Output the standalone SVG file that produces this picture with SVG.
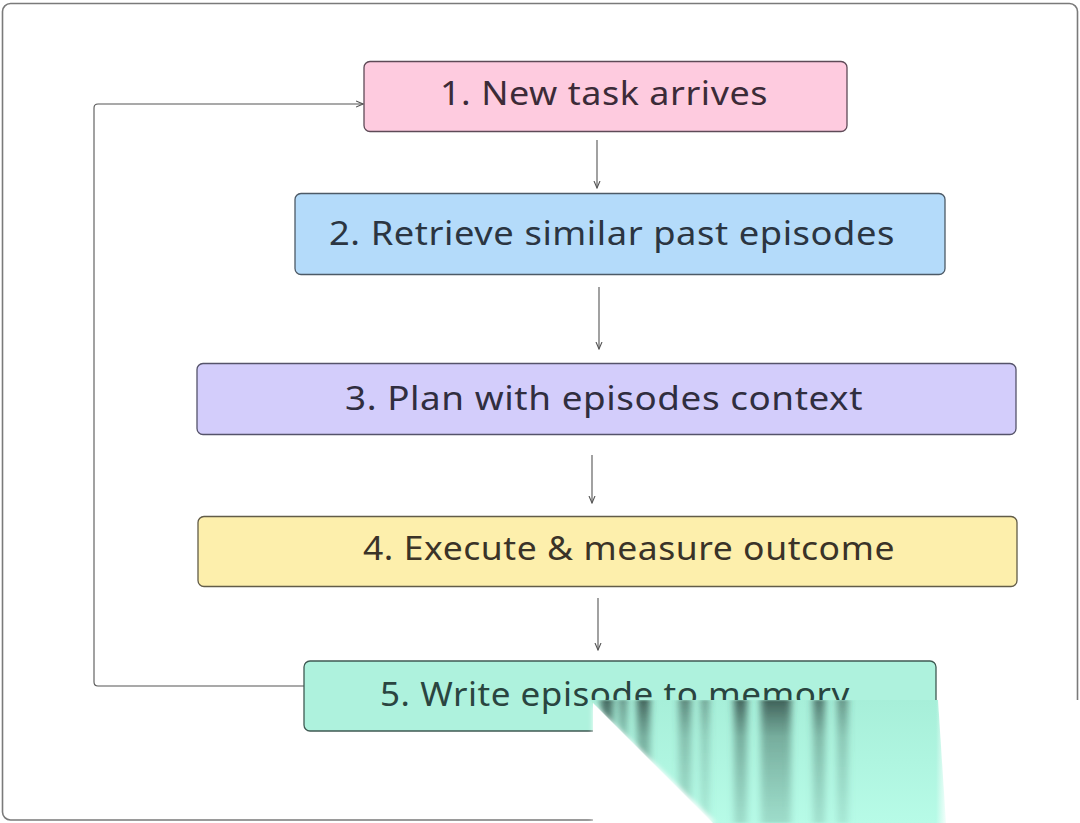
<svg xmlns="http://www.w3.org/2000/svg" width="1080" height="823" viewBox="0 0 1080 823">
<style>
.frame{fill:#ffffff;stroke:#7a7a7a;stroke-width:1.6}
.box{stroke-width:1.3}
.lbl{font-family:"Noto Sans","DejaVu Sans",sans-serif;font-size:32px;letter-spacing:0.5px}
.conn{fill:none;stroke:#555555;stroke-width:1.1}
</style>
<defs>
<marker id="arr" viewBox="0 0 8 8" refX="7.5" refY="4" markerWidth="8" markerHeight="8" markerUnits="userSpaceOnUse" orient="auto">
<path d="M0.5,1 L7.5,4 L0.5,7" fill="none" stroke="#555555" stroke-width="1.1"/>
</marker>
<linearGradient id="mintG" x1="0" y1="0" x2="0" y2="1">
<stop offset="0" stop-color="#a7efd9"/>
<stop offset="1" stop-color="#b7fbe7"/>
</linearGradient>
<linearGradient id="streakG" x1="0" y1="0" x2="0" y2="1">
<stop offset="0" stop-color="#2e4742" stop-opacity="0.85"/>
<stop offset="0.3" stop-color="#4a7468" stop-opacity="0.55"/>
<stop offset="1" stop-color="#6fa596" stop-opacity="0.35"/>
</linearGradient>
<linearGradient id="fadeR" x1="0" y1="0" x2="1" y2="0">
<stop offset="0" stop-color="#ffffff" stop-opacity="0"/>
<stop offset="1" stop-color="#ffffff" stop-opacity="1"/>
</linearGradient>
<filter id="blurX" x="-50%" y="-10%" width="200%" height="120%">
<feGaussianBlur stdDeviation="3.5 1"/>
</filter>
<filter id="soft" x="-10%" y="-10%" width="120%" height="120%">
<feGaussianBlur stdDeviation="2.5"/>
</filter>
<clipPath id="mintClip">
<polygon points="590,700 938,700 946,823 713,823"/>
</clipPath>
</defs>

<rect class="frame" x="2.5" y="3.5" width="1075" height="816.5" rx="8"/>

<g id="connectors">
<line class="conn" x1="597" y1="140" x2="597" y2="188" marker-end="url(#arr)"/>
<line class="conn" x1="599" y1="287" x2="599" y2="349" marker-end="url(#arr)"/>
<line class="conn" x1="592" y1="455" x2="592" y2="503" marker-end="url(#arr)"/>
<line class="conn" x1="598" y1="598" x2="598" y2="650" marker-end="url(#arr)"/>
<path class="conn" d="M304,686 L98,686 Q94,686 94,682 L94,108 Q94,104 98,104 L363,104" marker-end="url(#arr)"/>
</g>

<g id="node1">
<rect class="box" x="364" y="61.5" width="483" height="70" rx="6" fill="#fecbdf" stroke="#5e4a57"/>
<text class="lbl" x="440" y="105" textLength="328" lengthAdjust="spacingAndGlyphs" fill="#3c2b38">1. New task arrives</text>
</g>

<g id="node2">
<rect class="box" x="295" y="193.5" width="650" height="81" rx="6" fill="#b4dbfa" stroke="#4d5a66"/>
<text class="lbl" x="329" y="245" textLength="566" lengthAdjust="spacingAndGlyphs" fill="#2b3541">2. Retrieve similar past episodes</text>
</g>

<g id="node3">
<rect class="box" x="197" y="363.5" width="819" height="71" rx="6" fill="#d3cdfb" stroke="#55536a"/>
<text class="lbl" x="345" y="410" textLength="518" lengthAdjust="spacingAndGlyphs" fill="#302e3f">3. Plan with episodes context</text>
</g>

<g id="node4">
<rect class="box" x="198" y="516.5" width="819" height="70" rx="6" fill="#fdefac" stroke="#625c48"/>
<text class="lbl" x="363" y="560" textLength="532" lengthAdjust="spacingAndGlyphs" fill="#3a3328">4. Execute &amp; measure outcome</text>
</g>

<g id="node5">
<rect class="box" x="304" y="661" width="632" height="70" rx="6" fill="#aef2dd" stroke="#3f5a53"/>
<text class="lbl" x="380" y="706" textLength="470" lengthAdjust="spacingAndGlyphs" fill="#2a4540">5. Write episode to memory</text>
</g>

<rect x="593" y="701" width="487" height="122" fill="#ffffff"/>
<polygon points="590,700 938,700 946,823 713,823" fill="url(#mintG)"/>
<g clip-path="url(#mintClip)" filter="url(#blurX)">
<rect x="601" y="700" width="12" height="123" fill="url(#streakG)"/>
<rect x="619" y="700" width="8" height="123" fill="url(#streakG)" opacity="0.7"/>
<rect x="637" y="700" width="13" height="123" fill="url(#streakG)"/>
<rect x="679" y="700" width="12" height="123" fill="url(#streakG)" opacity="0.75"/>
<rect x="701" y="700" width="8" height="123" fill="url(#streakG)" opacity="0.6"/>
<rect x="734" y="700" width="13" height="123" fill="url(#streakG)"/>
<rect x="761" y="700" width="30" height="123" fill="url(#streakG)"/>
<rect x="813" y="700" width="12" height="123" fill="url(#streakG)" opacity="0.85"/>
<rect x="837" y="700" width="11" height="123" fill="url(#streakG)" opacity="0.65"/>
</g>
<polygon points="593,704 593,823 716,823" fill="#ffffff" filter="url(#soft)"/>
<rect x="936" y="700" width="12" height="123" fill="url(#fadeR)"/>
<rect x="947" y="700" width="133" height="123" fill="#ffffff"/>
</svg>
